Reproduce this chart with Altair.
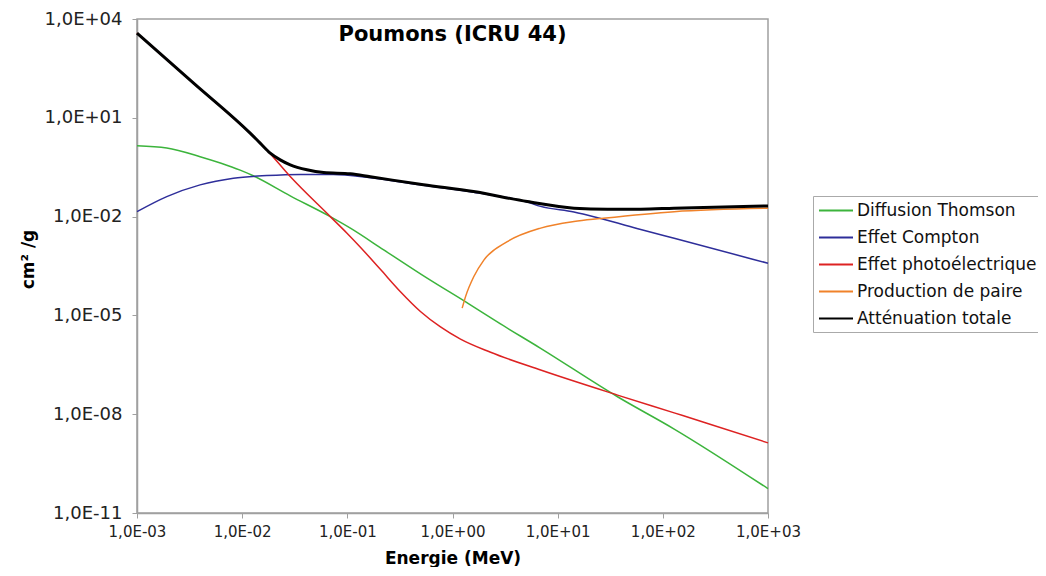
import altair as alt
import pandas as pd

series_names = ["Diffusion Thomson", "Effet Compton", "Effet photoélectrique",
                "Production de paire", "Atténuation totale"]
series_colors = ["#3cb43c", "#2e2e9a", "#dd2222", "#f0822a", "#000000"]

# log10(E / MeV) and log10(cm2/g)
thomson_logE = [-3.0, -2.717, -2.4, -2.2, -2.019, -1.895, -1.543, -1.162, -0.971, -0.654, -0.241, 0.155, 0.426, 0.838, 1.569, 2.108, 3.0]
thomson_logV = [0.15, 0.08, -0.18, -0.38, -0.59, -0.76, -1.37, -2.0, -2.35, -3.01, -3.87, -4.65, -5.2, -6.0, -7.47, -8.45, -10.26]

compton_logE = [-3.0, -2.717, -2.4, -2.083, -1.765, -1.448, -1.133, -0.781, -0.276, 0.2, 0.711, 0.838, 1.155, 1.41, 1.79, 2.108, 3.0]
compton_logV = [-1.848, -1.392, -1.036, -0.833, -0.754, -0.72, -0.72, -0.82, -1.05, -1.26, -1.56, -1.69, -1.86, -2.06, -2.39, -2.66, -3.416]

photo_logE = [-3.0, -2.462, -1.924, -1.781, -1.543, -1.162, -1.003, -0.876, -0.686, -0.495, -0.305, -0.114, 0.076, 0.362, 0.838, 1.569, 2.108, 2.426, 3.0]
photo_logV = [3.57, 2.05, 0.53, 0.079, -0.784, -2.0, -2.505, -2.93, -3.60, -4.28, -4.88, -5.35, -5.72, -6.12, -6.66, -7.42, -7.96, -8.28, -8.87]

pair_logE = [0.092, 0.124, 0.203, 0.298, 0.521, 0.838, 1.155, 1.41, 2.108, 3.0]
pair_logV = [-4.78, -4.43, -3.82, -3.32, -2.76, -2.35, -2.15, -2.06, -1.85, -1.745]

total_logE = [-3.0, -2.462, -1.924, -1.829, -1.733, -1.638, -1.543, -1.384, -1.225, -0.971, -0.781, -0.276, 0.2, 0.711, 1.155, 1.473, 1.79, 2.105, 3.0]
total_logV = [3.574, 2.055, 0.535, 0.231, -0.073, -0.277, -0.429, -0.58, -0.663, -0.70, -0.79, -1.036, -1.24, -1.544, -1.745, -1.775, -1.775, -1.745, -1.675]

x_ticks = [1e-3, 1e-2, 1e-1, 1e0, 1e1, 1e2, 1e3]
y_ticks = [1e-11, 1e-8, 1e-5, 1e-2, 1e1, 1e4]

rows = []
for name, le, lv in [
    (series_names[0], thomson_logE, thomson_logV),
    (series_names[1], compton_logE, compton_logV),
    (series_names[2], photo_logE, photo_logV),
    (series_names[3], pair_logE, pair_logV),
    (series_names[4], total_logE, total_logV),
]:
    for i, (a, b) in enumerate(zip(le, lv)):
        rows.append({"series": name, "E": 10 ** a, "v": 10 ** b, "order": i})
df = pd.DataFrame(rows)

exp_ = "round(log(datum.value)/LN10)"
label_expr = ("'1,0E' + (" + exp_ + " >= 0 ? '+' : '-') + (abs(" + exp_ + ") < 10 ? '0' : '') + abs(" + exp_ + ")")

x_enc = alt.X("E:Q",
              scale=alt.Scale(type="log", domain=[1e-3, 1e3], nice=False),
              axis=alt.Axis(values=x_ticks, labelExpr=label_expr, title="Energie (MeV)",
                            labelFontSize=15, labelPadding=6, titleFontSize=17,
                            titleY=45, titleBaseline="middle", labelFlush=False))
y_enc = alt.Y("v:Q",
              scale=alt.Scale(type="log", domain=[1e-11, 1e4], nice=False),
              axis=alt.Axis(values=y_ticks, labelExpr=label_expr, title="cm² /g",
                            labelFontSize=18, labelPadding=10, titleFontSize=17,
                            titleX=-109, titleY=240, titleAngle=270,
                            titleBaseline="middle", titleAlign="center", labelFlush=False))
color_enc = alt.Color("series:N",
                      scale=alt.Scale(domain=series_names, range=series_colors),
                      sort=series_names,
                      legend=alt.Legend(title=None, orient="none", legendX=676, legendY=177,
                                        symbolType="M-1,0H3", symbolSize=289,
                                        symbolStrokeWidth=2, labelFontSize=17,
                                        labelFont="DejaVu Sans", labelColor="#111",
                                        labelOffset=20, rowPadding=9, padding=5,
                                        strokeColor="#aaa", fillColor="white",
                                        labelLimit=300))

base = alt.Chart(df)
thin = base.transform_filter(alt.datum.series != series_names[4]).mark_line(
    interpolate="monotone", strokeWidth=1.5
).encode(x=x_enc, y=y_enc, color=color_enc, order="order:Q")
thick = base.transform_filter(alt.datum.series == series_names[4]).mark_line(
    interpolate="monotone", strokeWidth=3
).encode(x=x_enc, y=y_enc, color=color_enc, order="order:Q")

chart = alt.layer(thin, thick).properties(
    width=631, height=494,
    title=alt.TitleParams("Poumons (ICRU 44)", font="DejaVu Sans", fontSize=21,
                          fontWeight="bold", anchor="middle", offset=-35, color="black"),
    padding={"left": 129, "top": 11, "right": 270, "bottom": 54},
    autosize=alt.AutoSizeParams(type="none"),
).configure_view(
    stroke="#a0a0a0", strokeWidth=1.5
).configure_axis(
    domainColor="#a0a0a0", domainWidth=1.5, tickColor="#a0a0a0", tickSize=5,
    grid=False, labelFont="DejaVu Sans", labelColor="#222",
    titleFont="DejaVu Sans", titleFontWeight="bold", titleColor="black"
)

chart.save("out.html", embed_options={"renderer": "svg", "actions": False})
